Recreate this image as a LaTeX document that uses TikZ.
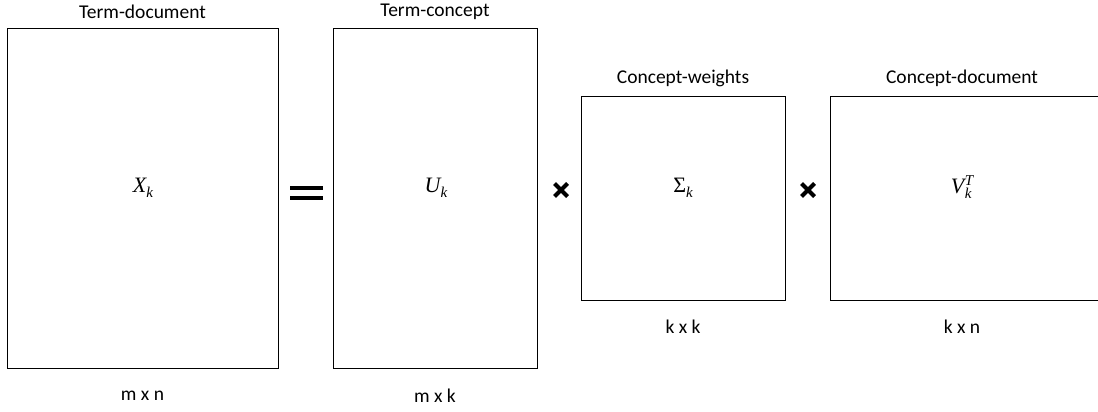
\documentclass[tikz,border=0pt]{standalone}
\usepackage{fontspec}
\setmainfont{Carlito}
\newfontfamily\mfont{Liberation Serif}
\newcommand{\lowidx}[1]{\raisebox{-5pt}{\fontsize{15}{17}\selectfont #1}}
\newcommand{\highidx}[1]{\raisebox{8.5pt}{\fontsize{15}{17}\selectfont #1}}
\begin{document}
\begin{tikzpicture}[x=1pt,y=-1pt,
  mat/.style={draw=black, line width=0.9pt, inner sep=0pt, fill=white},
  lbl/.style={font=\fontsize{19.5}{23}\selectfont, inner sep=0pt},
  sym/.style={font=\mfont\itshape\fontsize{22}{25}\selectfont, inner sep=0pt},
  opbar/.style={fill=black, draw=none},
  crossln/.style={line width=4.2pt, line cap=butt}]
\useasboundingbox (0,0) rectangle (1098,412);
\node[mat, minimum width=271pt, minimum height=340pt] (X) at (142.5,198) {};
\node[mat, minimum width=204pt, minimum height=340pt] (U) at (435,198) {};
\node[mat, minimum width=204pt, minimum height=204pt] (S) at (683,198) {};
\node[mat, minimum width=270pt, minimum height=204pt] (V) at (965,198) {};
\node[sym] (Xt) at (143,188) {X\lowidx{k}};
\node[sym] (Ut) at (436,188) {U\lowidx{k}};
\node[sym] (St) at (683,188) {{\upshape Σ}\lowidx{k}};
\node[sym] (Vt) at (962,187) {V\kern0.5pt\rlap{\lowidx{k}}\highidx{T}};
\node[lbl] (Xh) at (142.5,12) {Term-document};
\node[lbl] (Uh) at (435,12) {Term-concept};
\node[lbl] (Sh) at (683,78) {Concept-weights};
\node[lbl] (Vh) at (962,78) {Concept-document};
\node[lbl] (Xd) at (142.5,396) {m x n};
\node[lbl] (Ud) at (435,396) {m x k};
\node[lbl] (Sd) at (683,327) {k x k};
\node[lbl] (Vd) at (962,327) {k x n};
% equals sign
\coordinate (eq) at (306,193);
\fill[opbar] ([xshift=-16pt,yshift=-7pt]eq) rectangle ([xshift=17pt,yshift=-3pt]eq);
\fill[opbar] ([xshift=-16pt,yshift=3pt]eq) rectangle ([xshift=17pt,yshift=7pt]eq);
% multiplication crosses
\coordinate (m1) at (561,190);
\coordinate (m2) at (808,190);
\foreach \c in {m1,m2}{
  \draw[crossln] ([shift={(-6.5,-6.5)}]\c) -- ([shift={(6.5,6.5)}]\c);
  \draw[crossln] ([shift={(-6.5,6.5)}]\c) -- ([shift={(6.5,-6.5)}]\c);
}
\end{tikzpicture}
\end{document}
